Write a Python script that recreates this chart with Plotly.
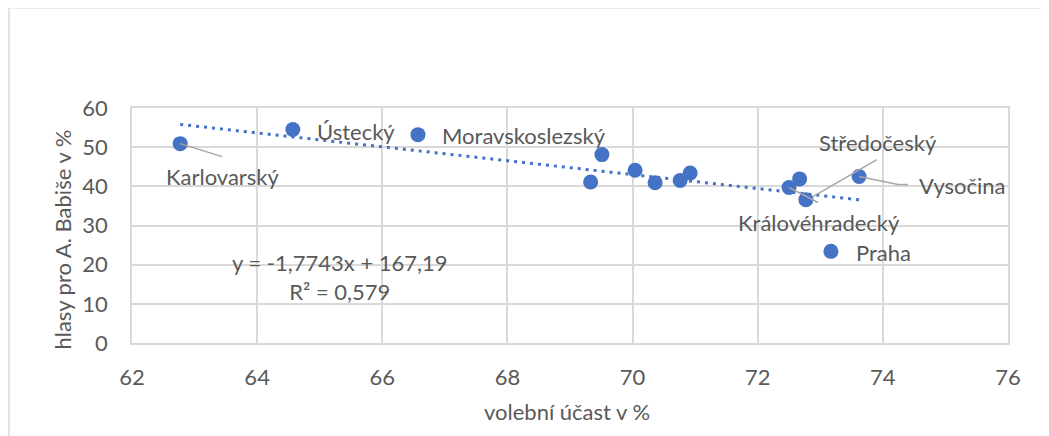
import plotly.graph_objects as go

# --- data ---
regions = ["Karlovarský", "Ústecký", "Moravskoslezský", "", "", "", "", "", "",
           "Královéhradecký", "", "Středočeský", "Vysočina", "Praha"]
turnout = [62.77, 64.57, 66.57, 69.51, 69.33, 70.04, 70.36, 70.76, 70.92,
           72.50, 72.67, 72.77, 73.62, 73.17]
babis = [50.9, 54.5, 53.2, 48.1, 41.1, 44.1, 40.9, 41.5, 43.4,
         39.7, 41.9, 36.6, 42.5, 23.4]
slope = -1.7743
intercept = 167.19
r2 = 0.579
x_ticks = [62, 64, 66, 68, 70, 72, 74, 76]
y_ticks = [0, 10, 20, 30, 40, 50, 60]

FONT = "Lato"
TXT = "#595959"
BLUE = "#4472C4"
GRID = "#d9d9d9"
FS = 22

fig = go.Figure()

# trendline
xmin, xmax = min(turnout), max(turnout)
fig.add_trace(go.Scatter(
    x=[xmin, xmax], y=[slope * xmin + intercept, slope * xmax + intercept],
    mode="lines", line=dict(color=BLUE, width=3, dash="3px,5px"),
    hoverinfo="skip", showlegend=False))

fig.add_trace(go.Scatter(
    x=turnout, y=babis, mode="markers",
    marker=dict(color=BLUE, size=15),
    text=regions, showlegend=False))

# label styling (pixel offsets): name -> (xshift, yshift, xanchor, leader polyline in px, screen-down positive)
label_style = {
    "Karlovarský": (42, -33, "center", [(0, 0), (42, 13)]),
    "Ústecký": (22, -2, "left", None),
    "Moravskoslezský": (22, -1, "left", None),
    "Královéhradecký": (30, -35, "center", [(0, 0), (29, 15)]),
    "Středočeský": (72, 57, "center", [(7, -3), (71, -40)]),
    "Vysočina": (58, -9, "left", [(0, 0), (39, 8), (49, 8)]),
    "Praha": (23, -1, "left", None),
}

annotations = []
shapes = []
for name, xv, yv in zip(regions, turnout, babis):
    if not name:
        continue
    xs, ys, xa, leader = label_style[name]
    annotations.append(dict(
        x=xv, y=yv, xref="x", yref="y", text=name, showarrow=False,
        xshift=xs, yshift=ys, xanchor=xa, yanchor="middle",
        font=dict(family=FONT, size=FS, color=TXT)))
    if leader:
        for (ax0, ay0), (ax1, ay1) in zip(leader[:-1], leader[1:]):
            shapes.append(dict(
                type="line", xref="x", yref="y",
                xsizemode="pixel", ysizemode="pixel",
                xanchor=xv, yanchor=yv,
                x0=ax0, x1=ax1, y0=-ay0, y1=-ay1,
                line=dict(color="#a6a6a6", width=1.5)))

def fmt(v, nd):
    return f"{v:.{nd}f}".replace(".", ",")

annotations.append(dict(
    xref="paper", yref="paper", x=0.237, y=0.28, showarrow=False,
    xanchor="center", yanchor="middle",
    text=f"y = {fmt(slope, 4)}x + {fmt(intercept, 2)}<br>R² = {fmt(r2, 3)}",
    align="center", font=dict(family=FONT, size=FS, color=TXT)))

annotations.append(dict(
    xref="paper", yref="paper", x=-0.0788, y=0.44, showarrow=False,
    xanchor="center", yanchor="middle",
    text="hlasy pro A. Babiše v %", textangle=-90,
    font=dict(family=FONT, size=FS, color=TXT)))
annotations.append(dict(
    xref="paper", yref="paper", x=0.4966, y=-0.292, showarrow=False,
    xanchor="center", yanchor="middle",
    text="volební účast v %",
    font=dict(family=FONT, size=FS, color=TXT)))

# outer chart border (top and left)
shapes.append(dict(type="line", xref="paper", yref="paper",
                   x0=-0.1404, x1=1.2, y0=1.427, y1=1.427,
                   line=dict(color=GRID, width=1.5)))
shapes.append(dict(type="line", xref="paper", yref="paper",
                   x0=-0.1404, x1=-0.1404, y0=1.427, y1=-0.5,
                   line=dict(color=GRID, width=1.5)))

fig.update_layout(
    width=1041, height=428,
    margin=dict(l=124, r=41, t=100, b=93),
    paper_bgcolor="white", plot_bgcolor="white",
    xaxis=dict(range=[62, 76], tickvals=x_ticks, showgrid=True, gridcolor=GRID,
               gridwidth=1.5, zeroline=False, showline=True, linecolor=GRID,
               linewidth=1.5, mirror=True, ticks="", ticklabelstandoff=14,
               tickfont=dict(family=FONT, size=FS, color=TXT)),
    yaxis=dict(range=[0, 60], tickvals=y_ticks, showgrid=True, gridcolor=GRID,
               gridwidth=1.5, zeroline=False, showline=True, linecolor=GRID,
               linewidth=1.5, mirror=True, ticks="", ticklabelstandoff=18,
               tickfont=dict(family=FONT, size=FS, color=TXT)),
    annotations=annotations, shapes=shapes,
)

fig.write_html("out.html")
